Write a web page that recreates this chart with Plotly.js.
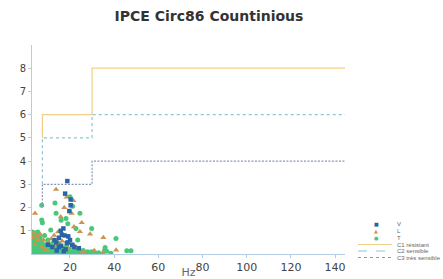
<!DOCTYPE html>
<html>
<head>
<meta charset="utf-8">
<script src="https://cdn.plot.ly/plotly-3.0.1.min.js"></script>
<style>html,body{margin:0;padding:0;background:#fff;}#chart{width:443px;height:279px;}</style>
</head>
<body>
<div id="chart"></div>
<script>
// ---- data ----
const vX = [18.8, 17.8, 20.3, 20.3, 19.7, 17.0, 15.8, 13.0, 15.0, 17.5, 19.0, 21.0, 12.0, 16.0, 18.0, 20.0, 22.0, 14.0, 10.0, 24.0, 16.3, 19.2, 18.6, 15.0, 17.2, 13.8];
const vY = [3.14, 2.6, 2.35, 2.1, 1.85, 1.1, 1.0, 0.6, 0.7, 0.8, 0.5, 0.4, 0.3, 0.35, 0.2, 0.6, 0.3, 0.15, 0.4, 0.25, 0.83, 0.76, 0.47, 0.3, 0.12, 0.5];

const lX = [13.7, 18.5, 21.5, 17.4, 4.2, 20.7, 15.8, 25.3, 21.8, 14.6, 24.5, 29.1, 35.1, 31.0, 34.8, 40.9, 3.5, 5.0, 6.5, 8.0, 10.0, 11.5, 12.5, 14.0, 16.5, 19.0, 22.0, 26.0, 9.0, 4.0, 5.5, 7.2, 3.2, 12.8, 15.2];
const lY = [2.78, 2.45, 2.3, 2.0, 1.75, 1.75, 1.6, 1.35, 1.17, 0.95, 0.96, 0.86, 0.71, 0.15, 0.05, 0.17, 0.9, 0.75, 0.85, 0.6, 0.5, 0.65, 0.3, 0.45, 0.55, 0.25, 0.35, 0.1, 0.2, 0.4, 0.6, 0.3, 0.7, 0.8, 0.65];

const tX = [20.0, 13.2, 7.2, 21.2, 13.7, 24.5, 7.2, 7.5, 18.2, 11.3, 22.7, 29.8, 40.8, 29.8, 35.6, 35.9, 36.6, 45.7, 47.6, 19.0, 16.0,
  3.0, 3.5, 4.0, 3.2, 4.5, 3.8, 5.0, 5.5, 6.0, 6.5, 7.0, 7.5, 8.0, 8.5, 9.0, 9.5, 10.0, 10.5, 11.0, 11.5, 12.0, 12.5, 13.0, 13.5, 14.0, 14.5,
  15.0, 15.5, 16.0, 16.5, 17.0, 17.5, 18.0, 18.5, 19.0, 19.5, 20.0, 21.0, 21.5, 22.0, 23.0, 23.5, 24.0, 25.0, 26.0, 27.0, 28.0, 29.0,
  3.0, 4.0, 5.0, 6.0, 6.8, 4.2, 5.8, 3.5,
  3.1, 3.3, 3.6, 3.9, 4.3, 4.6, 4.9, 5.2, 5.6, 5.9, 6.3, 6.7, 7.1, 7.6, 8.2, 8.8, 9.3, 10.2, 10.8, 11.6, 12.3, 13.1, 14.2, 15.3, 16.2,
  3.4, 4.1, 4.8, 5.4, 6.1, 6.9, 7.8, 8.6, 9.6, 10.6, 11.8, 13.4, 16.8, 18.8, 20.6, 22.5, 24.6, 26.5, 31.5, 33.0, 38.5];
const tY = [2.47, 2.2, 2.1, 2.06, 1.75, 1.76, 1.46, 1.35, 1.53, 1.03, 1.1, 1.1, 0.67, 0.1, 0.15, 0.28, 0.12, 0.14, 0.14, 1.3, 1.45,
  0.95, 0.8, 0.6, 0.4, 0.2, 0.1, 0.9, 0.5, 0.3, 0.7, 0.15, 0.45, 0.25, 0.8, 0.1, 0.35, 0.6, 0.2, 0.4, 0.1, 0.25, 0.5, 0.15, 0.35, 0.05, 0.2,
  0.45, 0.1, 0.3, 0.15, 0.05, 0.25, 0.1, 0.35, 0.05, 0.2, 0.1, 0.3, 0.05, 0.15, 0.08, 0.6, 0.2, 0.05, 0.15, 0.05, 0.1, 0.03,
  0.3, 0.05, 0.7, 0.05, 0.55, 0.45, 0.85, 0.15,
  0.55, 0.2, 0.35, 0.75, 0.9, 0.05, 0.25, 0.6, 0.15, 0.4, 0.55, 0.3, 0.5, 0.1, 0.4, 0.05, 0.2, 0.1, 0.3, 0.05, 0.12, 0.28, 0.18, 0.25, 0.05,
  0.02, 0.3, 0.02, 0.95, 0.2, 0.03, 0.05, 0.15, 0.02, 0.05, 0.02, 0.03, 0.02, 0.04, 0.02, 0.03, 0.04, 0.02, 0.04, 0.05, 0.03];

const stepX = [7.5, 7.5, 30, 30, 145];
const c1Y = [5, 6, 6, 8, 8];
const c2Y = [3, 5, 5, 6, 6];
const c3Y = [2, 3, 3, 4, 4];

const xTicks = [20, 40, 60, 80, 100, 120, 140];
const yTicks = [1, 2, 3, 4, 5, 6, 7, 8];
const legendLabels = ["V", "L", "T", "C1 résistant", "C2 sensible", "C3 très sensible"];

// ---- styles ----
const colV = "#2a64a8", colL = "#c99550", colT = "#48c878";
const colC1 = "#f2cf86", colC2 = "#8cc4dc", colC3 = "#8896b4";

const traces = [
  {x: tX, y: tY, mode: "markers", type: "scatter", name: legendLabels[2], marker: {color: colT, size: 5, symbol: "circle"}},
  {x: lX, y: lY, mode: "markers", type: "scatter", name: legendLabels[1], marker: {color: colL, size: 5.5, symbol: "triangle-up"}},
  {x: vX, y: vY, mode: "markers", type: "scatter", name: legendLabels[0], marker: {color: colV, size: 4.5, symbol: "square"}},
  {x: stepX, y: c1Y, mode: "lines", type: "scatter", name: legendLabels[3], line: {color: colC1, width: 1.2}},
  {x: stepX, y: c2Y, mode: "lines", type: "scatter", name: legendLabels[4], line: {color: colC2, width: 1.2, dash: "3px,3px"}},
  {x: stepX, y: c3Y, mode: "lines", type: "scatter", name: legendLabels[5], line: {color: colC3, width: 1.2, dash: "2px,1.5px"}}
];

// manual compact legend (paper coords)
const px = v => (v - 32) / 313;
const py = v => (254 - v) / 209;
const rowsY = [224, 231, 238, 244.5, 251, 257.5];
const symText = ["■", "▲", "●"];
const symCol = [colV, colL, colT];
const annotations = [];
const shapes = [];
legendLabels.forEach((lab, i) => {
  annotations.push({xref: "paper", yref: "paper", x: px(395), y: py(rowsY[i]), xanchor: "left", yanchor: "middle",
    text: lab, showarrow: false, font: {family: "Liberation Sans, Arial", size: 6, color: "#666"}});
  if (i < 3) {
    annotations.push({xref: "paper", yref: "paper", x: px(376), y: py(rowsY[i]), xanchor: "center", yanchor: "middle",
      text: symText[i], showarrow: false, font: {family: "DejaVu Sans", size: 5, color: symCol[i]}});
  }
});
[[colC1, "solid"], [colC2, "dash"], [colC3, "dot"]].forEach((s, j) => {
  shapes.push({type: "line", xref: "paper", yref: "paper", x0: px(358), x1: px(392), y0: py(rowsY[3 + j]), y1: py(rowsY[3 + j]),
    line: {color: s[0], width: 1, dash: s[1]}});
});

const layout = {
  width: 443, height: 279,
  margin: {l: 32, r: 98, t: 45, b: 25},
  paper_bgcolor: "#fff", plot_bgcolor: "#fff",
  showlegend: false,
  title: {text: "IPCE Circ86 Countinious", x: 209 / 443, xref: "container", xanchor: "center", y: 1 - 16 / 279, yref: "container", yanchor: "middle",
    font: {family: "DejaVu Sans, Verdana", size: 14, color: "#333", weight: "bold"}},
  xaxis: {range: [2.8, 144.5], tickvals: xTicks, ticktext: xTicks.map(String), showgrid: false, zeroline: false,
    showline: true, linecolor: "#b4cde2", linewidth: 1, ticks: "outside", ticklen: 3, tickcolor: "#b4cde2",
    tickfont: {family: "DejaVu Sans, Verdana", size: 11, color: "#444"},
    title: {text: "Hz", standoff: 5, font: {family: "DejaVu Sans, Verdana", size: 11, color: "#666"}}},
  yaxis: {range: [0, 9], tickvals: yTicks, ticktext: yTicks.map(String), showgrid: false, zeroline: false,
    showline: true, linecolor: "#b4cde2", linewidth: 1, ticks: "outside", ticklen: 3, tickcolor: "#b4cde2",
    tickfont: {family: "DejaVu Sans, Verdana", size: 10, color: "#444"}},
  annotations: annotations,
  shapes: shapes
};

Plotly.newPlot("chart", traces, layout, {displayModeBar: false, staticPlot: true});
</script>
</body>
</html>
